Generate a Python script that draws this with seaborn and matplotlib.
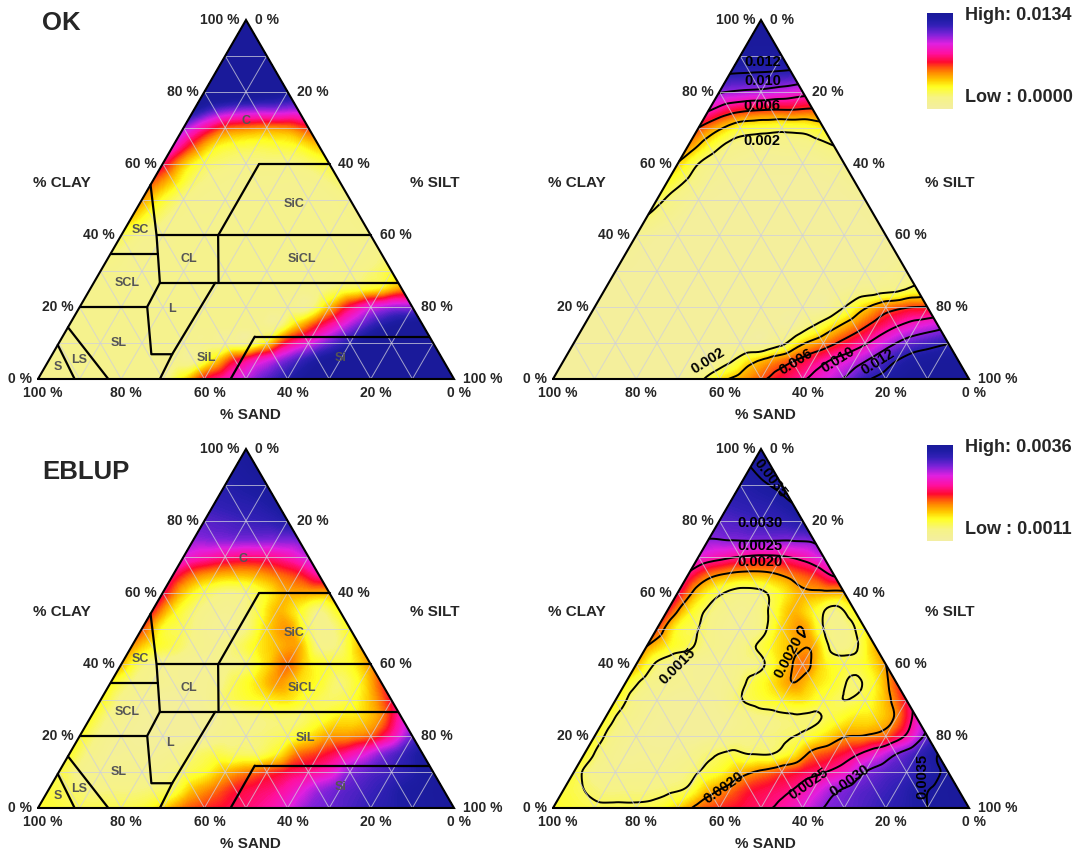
import numpy as np
import pandas as pd
import matplotlib
matplotlib.use("Agg")
import matplotlib.pyplot as plt
import matplotlib.tri as mtri
from matplotlib.colors import LinearSegmentedColormap, Normalize, PowerNorm
import seaborn as sns

sns.set_style("white")
plt.rcParams["font.family"] = ["Liberation Sans", "DejaVu Sans"]

FIG_W, FIG_H = 1081, 856

# ---------------- data ----------------
CLAY_LEVELS = list(range(0, 101, 5))   # % clay of each grid row
SILT_STEP = 5                           # % silt step inside a row (silt = 0 .. 100-clay)

# OK prediction variance, values x 1e-3
ok_rows_e3 = [
    [0.4, 0.4, 0.4, 0.4, 0.4, 0.4, 0.4, 1.6, 3.5, 4.6, 5.7, 6.8, 7.8, 8.9, 10.1, 11.7, 12.6, 13.3, 13.4, 13.4, 13.4],
    [0.4, 0.4, 0.4, 0.4, 0.4, 0.4, 0.4, 0.4, 1.8, 3.6, 4.8, 5.9, 7.1, 8.3, 9.3, 10.6, 12.0, 12.9, 13.3, 13.4],
    [0.4, 0.4, 0.4, 0.4, 0.4, 0.4, 0.4, 0.4, 0.4, 0.4, 1.6, 3.8, 5.1, 6.5, 7.8, 9.3, 10.6, 11.3, 11.9],
    [0.4, 0.4, 0.4, 0.4, 0.4, 0.4, 0.4, 0.4, 0.4, 0.4, 0.4, 1.9, 3.5, 5.0, 6.5, 7.8, 8.7, 9.3],
    [0.4, 0.4, 0.4, 0.4, 0.4, 0.4, 0.4, 0.4, 0.4, 0.4, 0.4, 0.4, 2.0, 3.8, 5.2, 5.9, 6.1],
    [0.4, 0.4, 0.4, 0.4, 0.4, 0.4, 0.4, 0.4, 0.4, 0.4, 0.4, 0.5, 0.9, 1.2, 1.6, 2.5],
    [0.5, 0.4, 0.4, 0.4, 0.4, 0.4, 0.4, 0.4, 0.4, 0.4, 0.4, 0.4, 0.5, 0.7, 1.2],
    [0.7, 0.4, 0.4, 0.4, 0.4, 0.4, 0.4, 0.4, 0.4, 0.4, 0.4, 0.4, 0.4, 0.6],
    [1.0, 0.5, 0.4, 0.4, 0.4, 0.4, 0.4, 0.4, 0.4, 0.4, 0.4, 0.4, 0.5],
    [1.9, 1.0, 0.5, 0.4, 0.4, 0.4, 0.4, 0.4, 0.4, 0.4, 0.4, 0.5],
    [2.4, 1.3, 0.6, 0.4, 0.4, 0.4, 0.4, 0.4, 0.4, 0.4, 0.6],
    [3.0, 1.8, 0.8, 0.5, 0.4, 0.4, 0.4, 0.4, 0.5, 0.8],
    [3.9, 2.0, 1.0, 0.7, 0.6, 0.6, 0.6, 0.8, 1.2],
    [5.0, 3.0, 1.6, 1.2, 1.1, 1.2, 1.4, 2.0],
    [6.0, 4.3, 3.0, 2.7, 2.5, 2.6, 3.3],
    [8.2, 6.8, 6.2, 6.0, 6.0, 5.8],
    [10.2, 9.8, 9.6, 9.2, 8.7],
    [12.0, 11.9, 11.8, 11.6],
    [13.0, 12.9, 12.9],
    [13.3, 13.3],
    [13.4],
]

# EBLUP prediction variance, values x 1e-4
eblup_rows_e4 = [
    [16.5, 16, 15.5, 15.5, 15.5, 16, 18, 21, 22.5, 23.5, 24.5, 25.5, 27.5, 30, 31, 32, 33, 34, 35, 35.5, 36],
    [16, 15, 14, 14, 14, 14.5, 15.5, 19, 21, 23, 24, 25, 27, 29.5, 31, 32, 33, 34.5, 35.3, 35.8],
    [16, 13.5, 13, 13, 13, 13.5, 15, 16.5, 19, 20.5, 22, 23.5, 24.8, 26.5, 30, 31.5, 32.5, 34, 35.5],
    [16.5, 13.5, 12.5, 12.5, 12.5, 13, 14.5, 15.5, 15, 15, 17, 21, 22.5, 24.5, 27, 30, 32.5, 35],
    [16.5, 13.5, 12.5, 12, 12, 12, 12.5, 13.5, 14, 14.5, 15.5, 17.5, 19.8, 20.2, 21.5, 25.5, 31],
    [16.5, 13.5, 12.5, 12, 12, 12, 12.5, 13.5, 14, 14.5, 14.5, 16, 17.5, 18, 20.5, 26.5],
    [17, 13.5, 12.5, 12, 12, 12.5, 14.8, 16, 17, 17.5, 16, 15, 16, 19, 23.5],
    [17, 14, 13, 12.5, 12.5, 13, 15.5, 17.5, 20, 18, 16.5, 14.5, 17, 22],
    [19, 14.5, 13, 12.5, 12.5, 13.5, 14.5, 18, 21, 17.5, 16, 16.5, 20],
    [20, 17, 15.5, 13.5, 13, 14.5, 17, 19, 19.5, 14, 14.5, 19],
    [22, 16.5, 15, 13, 12.5, 14, 18, 20, 15, 13.5, 17],
    [23, 17.5, 14.5, 13, 13, 15.5, 19, 17, 14, 17],
    [24, 18.5, 15.5, 14, 14.5, 17, 19.5, 19.5, 19.5],
    [24.5, 21, 19.5, 19, 19.5, 21, 22.5, 25.5],
    [27.5, 26, 25, 24.5, 24.8, 26, 28.5],
    [30, 30.3, 30.5, 30.5, 30.5, 30.8],
    [31.5, 32, 32.5, 33, 34],
    [33, 33.5, 34, 35],
    [34, 34.7, 35.5],
    [35, 36],
    [36],
]

ok_range_e3 = (0.0, 13.4)
eblup_range_e4 = (11.0, 36.0)
ok_levels_e3 = [2, 4, 6, 8, 10, 12]
eblup_levels_e4 = [15, 20, 25, 30, 35]
ok_legend = ["High: 0.0134", "Low : 0.0000"]
eblup_legend = ["High: 0.0036", "Low : 0.0011"]
panel_titles = ["OK", "EBLUP"]

tick_values = [0, 20, 40, 60, 80, 100]
axis_titles = ["% CLAY", "% SILT", "% SAND"]

# texture-class borders (clay %, silt %) as drawn in the figure
border_clay = [[59.8, 59.8], [59.8, 40.0], [40.0, 40.0], [40.0, 26.8], [26.8, 26.8],
               [54.1, 40.0, 26.8], [34.9, 34.9], [26.8, 20.1, 6.9, 6.9, 0.0], [20.1, 20.1],
               [26.8, 6.9], [14.4, 0.0], [9.5, 0.0], [11.8, 11.8], [11.8, 0.0]]
border_silt = [[23.2, 40.2], [23.2, 23.3], [8.5, 60.0], [23.3, 30.0], [15.9, 73.2],
               [0.0, 8.5, 15.9], [0.0, 11.3], [15.9, 16.2, 23.8, 28.8, 29.3], [0.0, 16.2],
               [29.2, 28.8], [0.0, 16.9], [0.0, 8.8], [46.2, 88.2], [46.2, 46.3]]

class_names = ["C", "SiC", "SC", "CL", "SiCL", "SCL", "L", "SL", "SiL", "S", "LS", "Si"]
ok_class_clay = [72.0, 48.7, 41.6, 33.3, 33.3, 26.8, 19.4, 9.9, 5.9, 3.4, 5.3, 5.8]
ok_class_silt = [14.0, 37.2, 3.8, 19.6, 46.7, 8.1, 22.5, 14.5, 37.5, 3.1, 7.3, 69.9]
eblup_class_clay = [69.4, 48.7, 41.6, 33.3, 33.3, 26.8, 18.2, 9.9, 19.4, 3.4, 5.3, 5.8]
eblup_class_silt = [14.5, 37.2, 3.8, 19.6, 46.7, 8.1, 22.7, 14.5, 54.6, 3.1, 7.3, 69.9]

# contour label placement (triangle-x, triangle-y fractions, rotation)
ok_clabel_text = ["0.012", "0.010", "0.006", "0.002", "0.002", "0.006", "0.010", "0.012"]
ok_clabel_x = [0.505, 0.505, 0.502, 0.502, 0.373, 0.584, 0.685, 0.781]
ok_clabel_y = [0.883, 0.830, 0.760, 0.663, 0.050, 0.047, 0.053, 0.047]
ok_clabel_rot = [0, 0, 0, 0, 32, 32, 32, 32]
eb_clabel_text = ["0.0035", "0.0030", "0.0025", "0.0020", "0.0015", "0.0020",
                  "0.0020", "0.0025", "0.0030", "0.0035"]
eb_clabel_x = [0.522, 0.498, 0.498, 0.498, 0.298, 0.567, 0.409, 0.615, 0.712, 0.889]
eb_clabel_y = [0.919, 0.794, 0.730, 0.685, 0.396, 0.421, 0.056, 0.067, 0.075, 0.089]
eb_clabel_rot = [-52, 0, 0, 0, 45, 62, 35, 35, 35, 90]

# ---------------- style / layout ----------------
cmap_stops = [(0.00, "#f3eea3"), (0.12, "#f6f385"), (0.23, "#ffff22"), (0.30, "#ffcc00"),
              (0.38, "#ff8a00"), (0.44, "#ff4a10"), (0.49, "#ff0a30"), (0.58, "#ff10a0"),
              (0.68, "#e020e0"), (0.78, "#7a22d8"), (0.87, "#3420b8"), (0.94, "#1e1ca4"),
              (1.00, "#1a1a9a")]
cmap = LinearSegmentedColormap.from_list("var", cmap_stops)

TRI_W, TRI_H = 416, 359
panels = {"ok_l": (38, 379), "ok_r": (553, 379), "eb_l": (38, 808), "eb_r": (553, 808)}

fig = plt.figure(figsize=(FIG_W / 100, FIG_H / 100), dpi=100)
fig.patch.set_facecolor("white")


def ftext(x, y, s, **kw):
    fig.text(x / FIG_W, 1 - y / FIG_H, s, **kw)


def tern_px(panel, clay, silt):
    x0, yb = panels[panel]
    return x0 + TRI_W * (silt + clay / 2) / 100, yb - TRI_H * clay / 100


def field_frame(rows):
    recs = []
    for c, row in zip(CLAY_LEVELS, rows):
        for j, v in enumerate(row):
            recs.append((c, j * SILT_STEP, v))
    df = pd.DataFrame(recs, columns=["clay", "silt", "value"])
    df["X"] = (df["silt"] + df["clay"] / 2) / 100
    df["Y"] = df["clay"] / 100
    return df


def make_ax(panel):
    x0, yb = panels[panel]
    ax = fig.add_axes([x0 / FIG_W, (FIG_H - yb) / FIG_H, TRI_W / FIG_W, TRI_H / FIG_H])
    ax.set_xlim(0, 1)
    ax.set_ylim(0, 1)
    ax.axis("off")
    return ax


def draw_field(ax, df, norm, levels=None):
    tri = mtri.Triangulation(df["X"].values, df["Y"].values)
    z = df["value"].values.astype(float)
    interp = mtri.CubicTriInterpolator(tri, z, kind="geom")
    tri_r, z_r = mtri.UniformTriRefiner(tri).refine_field(z, triinterpolator=interp, subdiv=3)
    zn = np.clip(np.asarray(norm(z_r), dtype=float), 0.0, 1.0)
    ax.tricontourf(tri_r, zn, levels=np.linspace(0, 1, 121), cmap=cmap,
                   vmin=0, vmax=1, extend="both")
    if levels is not None:
        ax.tricontour(tri_r, z_r, levels=levels, colors="black", linewidths=1.4)


def draw_grid_and_frame(ax):
    for k in range(1, 10):
        f = k / 10
        kw = dict(color="#cfcfdc", alpha=0.75, lw=0.7)
        ax.plot([f / 2, 1 - f / 2], [f, f], **kw)
        ax.plot([f, f + (1 - f) / 2], [0, 1 - f], **kw)
        ax.plot([1 - f, (1 - f) / 2], [0, 1 - f], **kw)
    ax.plot([0, 1, 0.5, 0], [0, 0, 1, 0], color="black", lw=1.5, clip_on=False,
            solid_joinstyle="miter")


def draw_axes_text(panel):
    x0, yb = panels[panel]
    for t in tick_values:
        x, y = tern_px(panel, t, 0)
        ftext(x - 6, y, f"{t} %", ha="right", va="center", fontsize=10, fontweight="bold")
        x, y = tern_px(panel, 100 - t, t)
        ftext(x + 9, y, f"{t} %", ha="left", va="center", fontsize=10, fontweight="bold")
        x, y = tern_px(panel, 0, 100 - t)
        ftext(x + 5, y + 14, f"{t} %", ha="center", va="center", fontsize=10, fontweight="bold")
    ftext(x0 + 24, yb - 196, axis_titles[0], ha="center", va="center", fontsize=11, fontweight="bold")
    ftext(x0 + 397, yb - 196, axis_titles[1], ha="center", va="center", fontsize=11, fontweight="bold")
    ftext(x0 + 212, yb + 36, axis_titles[2], ha="center", va="center", fontsize=11, fontweight="bold")


def draw_classes(ax, cl_clay, cl_silt):
    for bc, bs in zip(border_clay, border_silt):
        xs = [(s + c / 2) / 100 for c, s in zip(bc, bs)]
        ys = [c / 100 for c in bc]
        ax.plot(xs, ys, color="black", lw=1.6, solid_capstyle="round")
    for name, c, s in zip(class_names, cl_clay, cl_silt):
        ax.text((s + c / 2) / 100, c / 100, name, ha="center", va="center",
                fontsize=9, fontweight="bold", color="#555555")


def draw_labels(ax, texts, xs, ys, rots):
    for t, x, y, r in zip(texts, xs, ys, rots):
        ax.text(x, y, t, ha="center", va="center", rotation=r, rotation_mode="anchor",
                fontsize=10.5, fontweight="bold", color="black", clip_on=False)


def draw_colorbar(ytop, legend):
    cax = fig.add_axes([927 / FIG_W, 1 - (ytop + 96) / FIG_H, 26 / FIG_W, 96 / FIG_H])
    grad = pd.DataFrame(np.linspace(1, 0, 256)[:, None])
    sns.heatmap(grad, cmap=cmap, vmin=0, vmax=1, cbar=False, ax=cax,
                xticklabels=False, yticklabels=False)
    cax.axis("off")
    ftext(965, ytop + 3, legend[0], ha="left", va="center", fontsize=13, fontweight="bold")
    ftext(965, ytop + 85, legend[1], ha="left", va="center", fontsize=13, fontweight="bold")


ok_df = field_frame(ok_rows_e3)
eb_df = field_frame(eblup_rows_e4)

# display stretches: the OK class map (top left) uses a stronger stretch
ok_norm_right = Normalize(*ok_range_e3)
ok_norm_left = PowerNorm(0.8, vmin=ok_range_e3[0], vmax=ok_range_e3[1] * 0.65)
eb_norm = Normalize(*eblup_range_e4)

# OK left
ax = make_ax("ok_l")
draw_field(ax, ok_df, ok_norm_left)
draw_grid_and_frame(ax)
draw_classes(ax, ok_class_clay, ok_class_silt)
draw_axes_text("ok_l")

# OK right
ax = make_ax("ok_r")
draw_field(ax, ok_df, ok_norm_right, ok_levels_e3)
draw_grid_and_frame(ax)
draw_labels(ax, ok_clabel_text, ok_clabel_x, ok_clabel_y, ok_clabel_rot)
draw_axes_text("ok_r")

# EBLUP left
ax = make_ax("eb_l")
draw_field(ax, eb_df, eb_norm)
draw_grid_and_frame(ax)
draw_classes(ax, eblup_class_clay, eblup_class_silt)
draw_axes_text("eb_l")

# EBLUP right
ax = make_ax("eb_r")
draw_field(ax, eb_df, eb_norm, eblup_levels_e4)
draw_grid_and_frame(ax)
draw_labels(ax, eb_clabel_text, eb_clabel_x, eb_clabel_y, eb_clabel_rot)
draw_axes_text("eb_r")

draw_colorbar(13, ok_legend)
draw_colorbar(445, eblup_legend)

ftext(42, 23, panel_titles[0], ha="left", va="center", fontsize=18.5, fontweight="bold")
ftext(42, 472, panel_titles[1], ha="left", va="center", fontsize=18.5, fontweight="bold")

fig.savefig("out.png", dpi=100, facecolor="white")
